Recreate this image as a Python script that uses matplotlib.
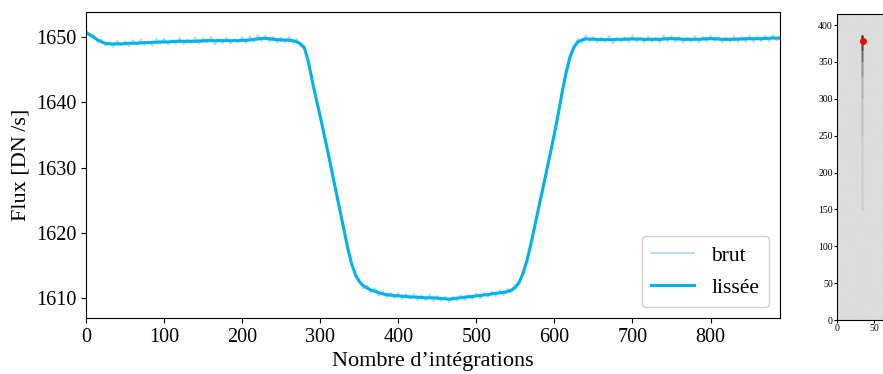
import matplotlib.pyplot as plt
import numpy as np

plt.rcParams['font.family'] = ['Liberation Serif', 'DejaVu Serif']

# integration index (every 5, last point = 889)
frames = list(range(0, 890, 5)) + [889]

# smoothed light curve
smooth_y = [1650.75, 1650.4, 1650.0, 1649.6, 1649.3, 1649.1, 1649.0, 1649.0, 1649.0, 1649.0,
            1649.05, 1649.1, 1649.1, 1649.1, 1649.15, 1649.2, 1649.2, 1649.25, 1649.25, 1649.3,
            1649.3, 1649.3, 1649.35, 1649.4, 1649.4, 1649.4, 1649.4, 1649.4, 1649.4, 1649.45,
            1649.45, 1649.5, 1649.5, 1649.5, 1649.5, 1649.5, 1649.5, 1649.5, 1649.5, 1649.5,
            1649.55, 1649.55, 1649.6, 1649.7, 1649.75, 1649.85, 1649.85, 1649.8, 1649.7, 1649.65,
            1649.6, 1649.6, 1649.55, 1649.5, 1649.3, 1649.0, 1648.3, 1646.2, 1643.2, 1640.5,
            1637.9, 1635.1, 1632.3, 1629.4, 1626.5, 1623.6, 1620.7, 1617.8, 1615.3, 1613.6,
            1612.5, 1611.9, 1611.5, 1611.2, 1611.0, 1610.8, 1610.6, 1610.5, 1610.4, 1610.35,
            1610.3, 1610.25, 1610.2, 1610.15, 1610.1, 1610.1, 1610.05, 1610.0, 1610.0, 1610.0,
            1609.95, 1609.9, 1609.85, 1609.8, 1609.85, 1609.95, 1610.0, 1610.1, 1610.15, 1610.2,
            1610.3, 1610.35, 1610.45, 1610.5, 1610.6, 1610.7, 1610.75, 1610.85, 1610.95, 1611.2,
            1611.6, 1612.4, 1613.8, 1615.8, 1618.3, 1621.1, 1623.9, 1626.7, 1629.5, 1632.3,
            1635.2, 1638.3, 1641.6, 1644.6, 1647.0, 1648.5, 1649.3, 1649.6, 1649.75, 1649.75,
            1649.7, 1649.7, 1649.65, 1649.65, 1649.65, 1649.65, 1649.7, 1649.7, 1649.7, 1649.75,
            1649.75, 1649.75, 1649.75, 1649.7, 1649.7, 1649.7, 1649.7, 1649.7, 1649.75, 1649.8,
            1649.8, 1649.8, 1649.75, 1649.7, 1649.7, 1649.7, 1649.7, 1649.7, 1649.75, 1649.8,
            1649.8, 1649.8, 1649.75, 1649.7, 1649.7, 1649.7, 1649.7, 1649.75, 1649.75, 1649.8,
            1649.8, 1649.8, 1649.8, 1649.8, 1649.85, 1649.85, 1649.9, 1649.9, 1649.9]

# raw light curve
raw_y = [1651.2, 1650.3, 1650.4, 1649.2, 1649.7, 1648.7, 1649.3, 1648.5, 1649.5, 1648.8,
         1649.4, 1648.6, 1649.6, 1648.9, 1649.7, 1648.8, 1649.4, 1648.7, 1649.8, 1649.0,
         1649.8, 1648.9, 1649.6, 1649.0, 1649.9, 1648.9, 1649.7, 1649.1, 1650.0, 1649.0,
         1649.9, 1649.2, 1650.1, 1648.9, 1649.8, 1649.1, 1650.0, 1649.0, 1649.8, 1649.2,
         1650.1, 1649.1, 1650.2, 1649.3, 1650.4, 1649.4, 1650.3, 1649.3, 1650.1, 1649.2,
         1650.0, 1649.2, 1650.1, 1649.1, 1649.8, 1648.6, 1648.7, 1645.8, 1643.5, 1640.2,
         1638.1, 1634.8, 1632.6, 1629.1, 1626.8, 1623.3, 1621.0, 1617.5, 1615.6, 1613.2,
         1612.9, 1611.4, 1611.9, 1610.8, 1611.5, 1610.3, 1611.0, 1610.0, 1610.8, 1609.9,
         1610.7, 1609.8, 1610.6, 1609.8, 1610.6, 1609.6, 1610.4, 1609.6, 1610.5, 1609.5,
         1610.3, 1609.5, 1610.2, 1609.3, 1610.2, 1609.5, 1610.4, 1609.6, 1610.5, 1609.8,
         1610.7, 1609.9, 1610.8, 1610.1, 1611.0, 1610.2, 1611.2, 1610.4, 1611.4, 1610.8,
         1612.0, 1612.1, 1614.2, 1615.5, 1618.6, 1620.8, 1624.2, 1626.4, 1629.8, 1632.0,
         1635.5, 1638.0, 1641.9, 1644.3, 1647.3, 1648.2, 1649.8, 1649.1, 1650.3, 1649.3,
         1650.1, 1649.2, 1650.0, 1649.3, 1650.2, 1649.1, 1649.9, 1649.3, 1650.1, 1649.2,
         1650.3, 1649.3, 1650.0, 1649.2, 1650.2, 1649.3, 1650.0, 1649.2, 1650.3, 1649.4,
         1650.2, 1649.3, 1650.1, 1649.2, 1650.0, 1649.3, 1650.2, 1649.2, 1650.1, 1649.3,
         1650.3, 1649.4, 1650.1, 1649.2, 1650.0, 1649.3, 1650.2, 1649.3, 1650.1, 1649.3,
         1650.3, 1649.3, 1650.2, 1649.4, 1650.3, 1649.4, 1650.4, 1649.5, 1650.1]

# detector cutout: background level and trace segments (row_start, row_end, level)
img_shape = (415, 100)
img_background = 0.86
trace_cols = (33, 36)
trace_segments = [(148, 250, 0.80), (250, 300, 0.76), (300, 330, 0.70), (330, 350, 0.60),
                  (350, 365, 0.45), (365, 378, 0.30), (378, 386, 0.15)]
star_pos = (35, 379)

fig = plt.figure(figsize=(8.83, 3.74), dpi=100)
ax = fig.add_axes([86 / 883, 56 / 374, 694 / 883, 306 / 374])
ax.plot(frames, raw_y, color='#a6deea', lw=1.2, label='brut')
ax.plot(frames, smooth_y, color='#00b2ee', lw=2.2, label='lissée')
ax.set_xlim(0, 889)
ax.set_ylim(1606.9, 1653.9)
ax.set_xlabel('Nombre d’intégrations', fontsize=16)
ax.set_ylabel('Flux [DN\u2009/s]', fontsize=16)
ax.tick_params(labelsize=14.5)
ax.legend(loc='lower right', fontsize=15.5, handlelength=2.0, borderpad=0.45,
          labelspacing=0.55, framealpha=1, edgecolor='#d0d0d0')

img = np.full(img_shape, img_background)
for r0, r1, level in trace_segments:
    img[r0:r1, trace_cols[0]:trace_cols[1]] = level

ax2 = fig.add_axes([837 / 883, 54 / 374, 74 / 883, 306 / 374])
ax2.imshow(img, cmap='gray', vmin=0, vmax=1, origin='lower', aspect='auto',
           extent=(0, img_shape[1], 0, img_shape[0]), interpolation='bilinear')
ax2.plot(*star_pos, 'o', color='red', ms=4)
ax2.set_xticks([0, 50])
ax2.set_yticks(range(0, 401, 50))
ax2.tick_params(labelsize=7, length=2, pad=1)

fig.savefig('out.png', dpi=100)
